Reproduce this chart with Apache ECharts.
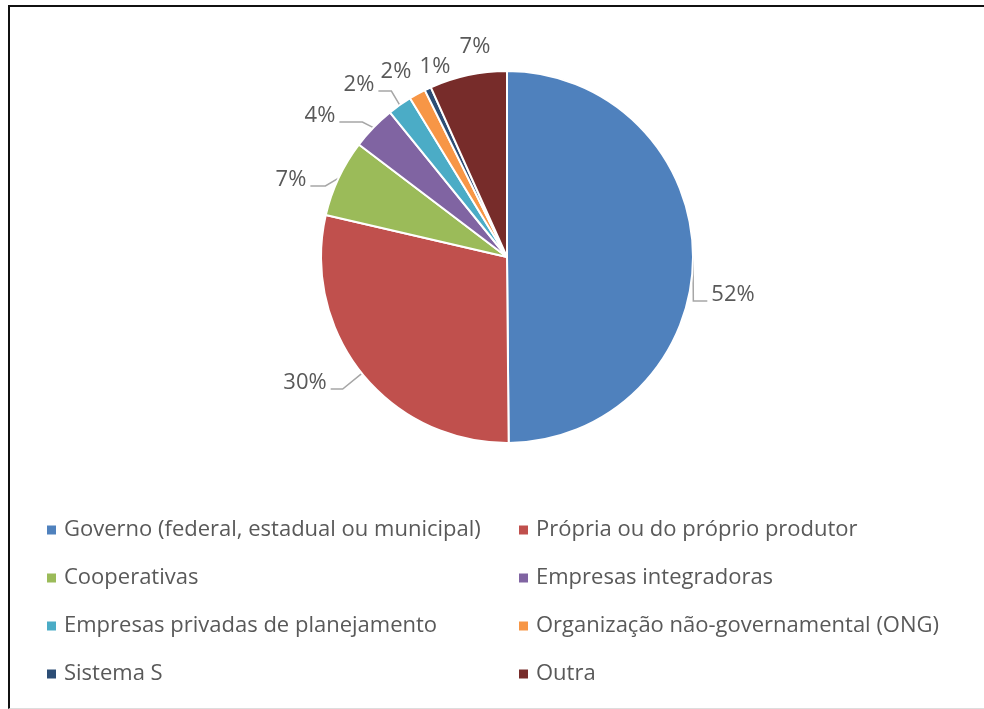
<!DOCTYPE html>
<html>
<head>
<meta charset="utf-8">
<script src="https://cdn.jsdelivr.net/npm/echarts@6/dist/echarts.min.js"></script>
<style>
	html, body { margin: 0; padding: 0; background: #fff; }
	#frame {
		position: absolute; left: 8px; top: 5px; width: 990px; height: 701px;
		border-left: 2px solid #111; border-top: 2px solid #111; border-bottom: 1px solid #ddd;
	}
	#pie { position: absolute; left: 0; top: 0; width: 984px; height: 709px; }
</style>
</head>
<body>
<div id="frame"></div>
<div id="pie"></div>
<script>
// categorias e valores (% de respostas)
var categorias = [
	'Governo (federal, estadual ou municipal)',
	'Própria ou do próprio produtor',
	'Cooperativas',
	'Empresas integradoras',
	'Empresas privadas de planejamento',
	'Organização não-governamental (ONG)',
	'Sistema S',
	'Outra'
];
var valores = [52, 30, 7, 4, 2.2, 1.5, 0.6, 7];
var rotulos = ['52%', '30%', '7%', '4%', '2%', '2%', '1%', '7%'];
var cores = ['#4f81bd', '#c0504d', '#9bbb59', '#8064a2', '#4bacc6', '#f79646', '#2c4d75', '#772c2a'];

// posição dos rótulos (deslocamento do centro da pizza) e linhas de chamada
var centro = [507, 257];
var rotuloDesloc = [[226, 38], [-202, 126], [-216, -77], [-187, -141], [-148, -172], [-111, -185], [-72, -190], [-32, -210]];
var linhaHoriz = [14, 12, 15, 23, 13, 0, 0, 0];

var colEsq = [categorias[0], categorias[2], categorias[4], categorias[6]];
var colDir = [categorias[1], categorias[3], categorias[5], categorias[7]];

var chart = echarts.init(document.getElementById('pie'));
var fonte = 'Open Sans';
var legendaBase = {
	orient : 'vertical',
	top : 514,
	itemWidth : 11,
	itemHeight : 11,
	itemGap : 26,
	icon : 'rect',
	textStyle : {
		fontFamily : fonte,
		fontSize : 22,
		lineHeight : 22,
		color : '#595959',
		padding : [0, 0, 0, 2]
	}
};
var option = {
	color : cores,
	animation : false,
	legend : [
		Object.assign({}, legendaBase, { left : 40, data : colEsq }),
		Object.assign({}, legendaBase, { left : 512, data : colDir })
	],
	series : [ {
		type : 'pie',
		center : centro,
		radius : [0, 186],
		startAngle : 90,
		clockwise : true,
		avoidLabelOverlap : false,
		itemStyle : {
			borderColor : '#fff',
			borderWidth : 2
		},
		label : {
			show : true,
			position : 'outside',
			fontFamily : fonte,
			fontSize : 22,
			color : '#595959',
			formatter : function(p) {
				return rotulos[p.dataIndex];
			}
		},
		labelLine : {
			show : true,
			length : 10,
			length2 : 10,
			lineStyle : { color : '#a6a6a6', width : 1.5 }
		},
		labelLayout : function(p) {
			var i = p.dataIndex;
			var cx = centro[0] + rotuloDesloc[i][0];
			var cy = centro[1] + rotuloDesloc[i][1];
			var res = { x : cx, y : cy, align : 'center', verticalAlign : 'middle' };
			if (linhaHoriz[i] > 0 && p.labelLinePoints) {
				var s = rotuloDesloc[i][0] > 0 ? 1 : -1;
				var p0 = p.labelLinePoints[0];
				var x2 = cx - s * (p.labelRect.width / 2 + 4);
				var y2 = cy + 6;
				res.labelLinePoints = [[p0[0], p0[1]], [x2 - s * linhaHoriz[i], y2], [x2, y2]];
			}
			return res;
		},
		data : categorias.map(function(c, i) {
			return {
				name : c,
				value : valores[i],
				labelLine : { show : linhaHoriz[i] > 0 }
			};
		})
	} ]
};
chart.setOption(option);
</script>
</body>
</html>
